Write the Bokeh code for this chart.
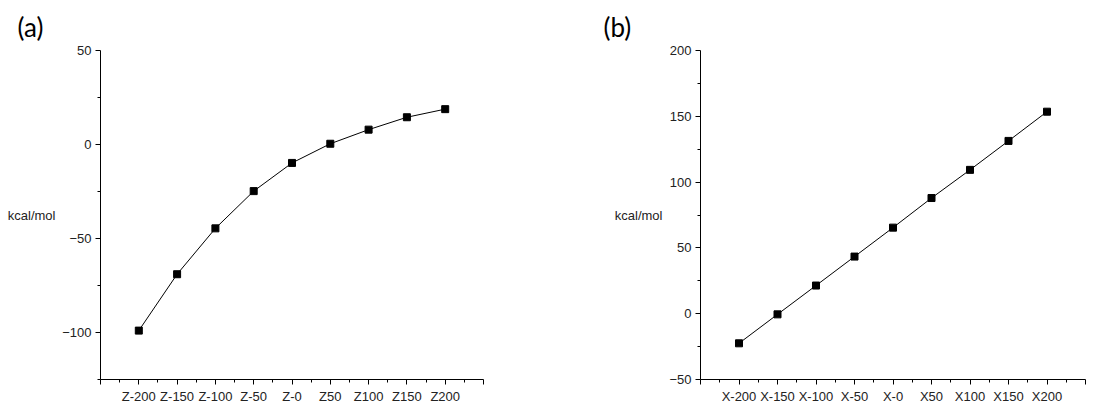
from bokeh.plotting import figure
from bokeh.layouts import row
from bokeh.models import FixedTicker, Range1d, LinearAxis
from bokeh.embed import file_html
from bokeh.resources import INLINE

cats_a = ["Z-200", "Z-150", "Z-100", "Z-50", "Z-0", "Z50", "Z100", "Z150", "Z200"]
vals_a = [-99.0, -69.0, -44.6, -24.8, -9.8, 0.4, 7.9, 14.5, 18.8]
cats_b = ["X-200", "X-150", "X-100", "X-50", "X-0", "X50", "X100", "X150", "X200"]
vals_b = [-22.5, -0.5, 21.4, 43.4, 65.4, 87.9, 109.3, 131.3, 153.5]

yticks_a = [-100, -50, 0, 50]
yminor_a = [-125, -75, -25, 25]
yticks_b = [-50, 0, 50, 100, 150, 200]
yminor_b = [-25, 25, 75, 125, 175]

TICK_FONT = "Liberation Sans"


def fmt(v):
    return ("\u2212" + str(abs(v))) if v < 0 else str(v)


def make_panel(cats, vals, yr, yticks, yminor, tag, unit_bounds, width, bl, br, tag_px):
    n = len(cats)
    p = figure(width=width, height=407, output_backend="svg", toolbar_location=None,
               x_range=Range1d(-1, n), y_range=Range1d(*yr),
               min_border_left=bl, min_border_right=br, min_border_top=48, min_border_bottom=28)
    p.outline_line_color = None
    p.xgrid.visible = False
    p.ygrid.visible = False
    xs = list(range(n))
    p.line(xs, vals, line_color="black", line_width=1)
    p.scatter(xs, vals, marker="square", size=7, fill_color="black", line_color="black")

    p.title.text = tag
    p.title.align = "left"
    p.title.offset = tag_px - bl
    p.title.text_font = "Lato"
    p.title.text_font_size = "26px"
    p.title.text_font_style = "normal"
    p.title.text_color = "black"
    p.title.standoff = 16

    xa = p.xaxis[0]
    xa.ticker = FixedTicker(ticks=list(range(-1, n + 1)), minor_ticks=[i + 0.5 for i in range(-1, n)])
    xa.major_label_overrides = {**{i: c for i, c in enumerate(cats)}, -1: "", n: ""}
    ya = p.yaxis[0]
    ya.ticker = FixedTicker(ticks=yticks, minor_ticks=yminor)
    ya.major_label_overrides = {v: fmt(v) for v in yticks}
    for ax in (xa, ya):
        ax.axis_line_color = "black"
        ax.major_tick_line_color = "black"
        ax.minor_tick_line_color = "black"
        ax.major_tick_in = 0
        ax.major_tick_out = 5
        ax.minor_tick_in = 0
        ax.minor_tick_out = 3
        ax.major_label_text_font = TICK_FONT
        ax.major_label_text_font_size = "13px"
        ax.major_label_text_color = "#222222"
        ax.major_label_standoff = 4

    # unit label carried by a tick-less axis on the left
    ua = LinearAxis(ticker=FixedTicker(ticks=[]), bounds=unit_bounds,
                    axis_line_color=None, major_tick_line_color=None, minor_tick_line_color=None,
                    major_tick_out=0, minor_tick_out=0, major_label_text_font_size="0px",
                    axis_label="kcal/mol", axis_label_orientation="horizontal",
                    axis_label_text_font=TICK_FONT, axis_label_text_font_size="13px",
                    axis_label_text_font_style="normal", axis_label_text_color="#222222",
                    axis_label_standoff=4)
    p.add_layout(ua, "left")
    return p


pa = make_panel(cats_a, vals_a, (-125, 50), yticks_a, yminor_a, "(a)", (15, 31), 556, 100, 73, 17)
pb = make_panel(cats_b, vals_b, (-50, 200), yticks_b, yminor_b, "(b)", (160, 181), 556, 144, 27, 47)

layout = row(pa, pb, spacing=0)
open("out.html", "w").write(file_html(layout, INLINE))
